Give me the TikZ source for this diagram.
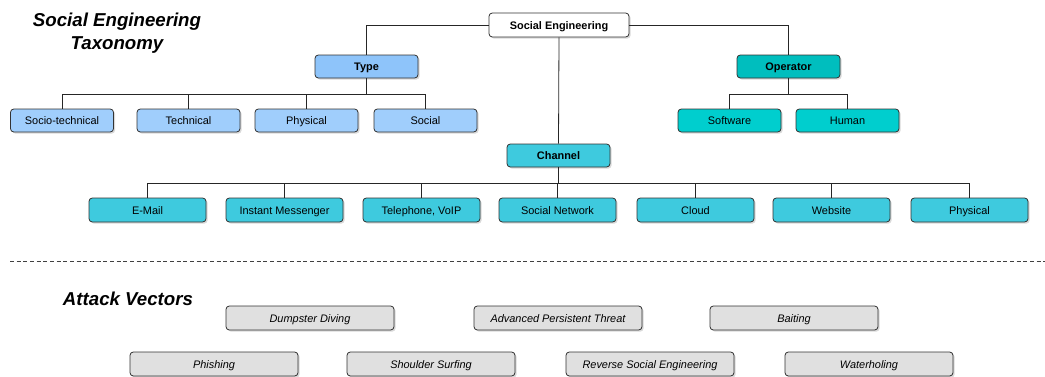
\documentclass[tikz,border=0pt]{standalone}
\usepackage{fontspec}
\setmainfont{Liberation Sans}
\usetikzlibrary{shadows}
\definecolor{rootfill}{RGB}{255,255,255}
\definecolor{typefill}{RGB}{142,196,250}
\definecolor{typekid}{RGB}{160,206,252}
\definecolor{operfill}{RGB}{0,190,190}
\definecolor{operkid}{RGB}{0,206,206}
\definecolor{chanfill}{RGB}{62,202,222}
\definecolor{vecfill}{RGB}{224,224,224}
\tikzset{
	box/.style={draw=black!80, line width=0.6pt, rounded corners=2.5pt, align=center,
		font=\fontsize{8.2}{9}\selectfont, inner sep=0pt, text height=1.6ex, text depth=0.4ex,
		drop shadow={shadow xshift=1.2pt, shadow yshift=-1.2pt, opacity=0.3}},
	headbox/.style={box, font=\fontsize{8.2}{9}\selectfont\bfseries,
		minimum width=77.25pt, minimum height=17.25pt},
	kidbox/.style={box, minimum width=77.25pt, minimum height=17.25pt},
	chanbox/.style={box, fill=chanfill, minimum width=87.75pt, minimum height=18pt},
	vecbox/.style={box, fill=vecfill, font=\fontsize{8.2}{9}\selectfont\itshape,
		minimum width=126pt, minimum height=18pt},
	link/.style={line width=0.6pt, draw=black!85},
	heading/.style={font=\fontsize{14}{17.5}\selectfont\bfseries\itshape, align=center}
}
\begin{document}
\begin{tikzpicture}[x=0.75pt, y=-0.75pt]
		%%%%% START %%%%%
		\useasboundingbox (0, 0) rectangle (1045, 376);
		
		\node[heading] (title) at (117, 33) {Social Engineering\\Taxonomy};
		
		\node[box, fill=rootfill, font=\fontsize{8.2}{9}\selectfont\bfseries, minimum width=105pt, minimum height=18pt] (root) at (559, 25) {Social Engineering};
		
		\node[headbox, fill=typefill] (type) at (366.5, 66.5) {Type};
		\node[headbox, fill=operfill] (oper) at (788.5, 66.5) {Operator};
		\node[headbox, fill=chanfill] (chan) at (558.5, 155.5) {Channel};
		
		\node[kidbox, fill=typekid] (socio) at (62, 120.5) {Socio-technical};
		\node[kidbox, fill=typekid] (tech) at (188.5, 120.5) {Technical};
		\node[kidbox, fill=typekid] (phys) at (306.5, 120.5) {Physical};
		\node[kidbox, fill=typekid] (social) at (425.5, 120.5) {Social};
		
		\node[kidbox, fill=operkid] (soft) at (729.5, 120.5) {Software};
		\node[kidbox, fill=operkid] (human) at (847.5, 120.5) {Human};
		
		\node[chanbox] (mail) at (147.5, 210) {E-Mail};
		\node[chanbox] (im) at (284.5, 210) {Instant Messenger};
		\node[chanbox] (voip) at (421.5, 210) {Telephone, VoIP};
		\node[chanbox] (sn) at (557.5, 210) {Social Network};
		\node[chanbox] (cloud) at (695.5, 210) {Cloud};
		\node[chanbox] (web) at (831.5, 210) {Website};
		\node[chanbox] (cphys) at (969.5, 210) {Physical};
		
		% connectors
		\draw[link] (root.west) -| (type.north);
		\draw[link] (root.east) -| (oper.north);
		\draw[link] (root.south) -- (chan.north);
		\foreach \k in {socio, tech, phys, social}
			\draw[link] (type.south) -- ++(0, 15.5) -| (\k.north);
		\foreach \k in {soft, human}
			\draw[link] (oper.south) -- ++(0, 15.5) -| (\k.north);
		\foreach \k in {mail, im, voip, sn, cloud, web, cphys}
			\draw[link] (chan.south) -- ++(0, 15.5) -| (\k.north);
		
		\draw[black!75, line width=0.6pt, dash pattern=on 3pt off 2pt] (10, 261) -- (1045, 261);
		
		\node[heading] (vectors) at (128, 299) {Attack Vectors};
		
		\node[vecbox] (dumpster) at (310, 318) {Dumpster Diving};
		\node[vecbox] (apt) at (558, 318) {Advanced Persistent Threat};
		\node[vecbox] (baiting) at (794, 318) {Baiting};
		\node[vecbox] (phishing) at (214, 364) {Phishing};
		\node[vecbox] (shoulder) at (431, 364) {Shoulder Surfing};
		\node[vecbox] (reverse) at (650, 364) {Reverse Social Engineering};
		\node[vecbox] (water) at (869, 364) {Waterholing};
		
		%%%%% END %%%%%
	\end{tikzpicture}
\end{document}
